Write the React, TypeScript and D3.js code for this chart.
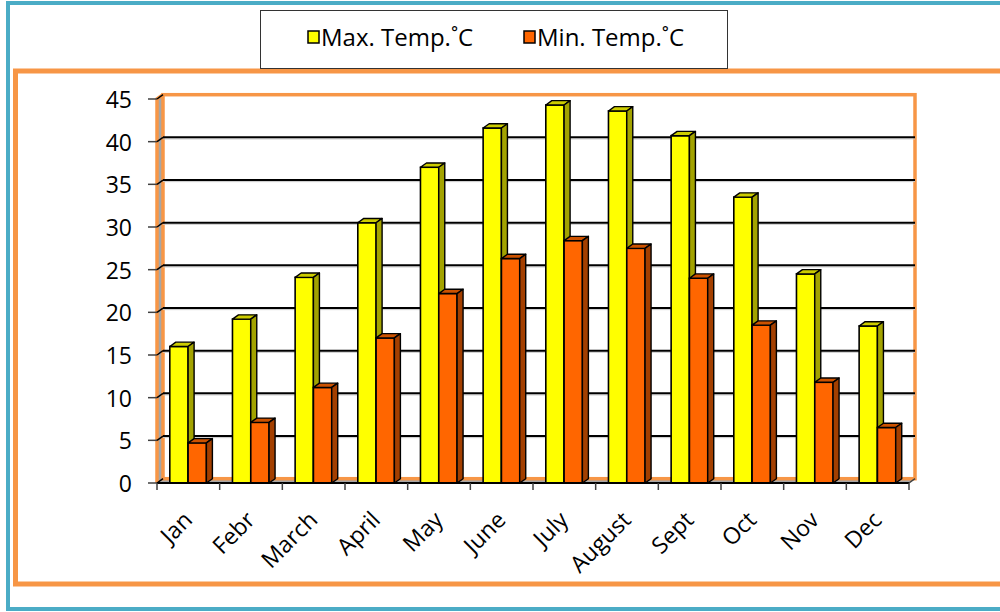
import React from "react";
import * as d3 from "d3";

// Monthly temperature normals (°C)
const months = ["Jan", "Febr", "March", "April", "May", "June", "July", "August", "Sept", "Oct", "Nov", "Dec"];
const maxTemp = [16, 19.2, 24.1, 30.5, 37, 41.6, 44.3, 43.6, 40.7, 33.5, 24.5, 18.4];
const minTemp = [4.7, 7.1, 11.2, 17, 22.2, 26.3, 28.4, 27.5, 24, 18.5, 11.8, 6.5];
const yTicks = [0, 5, 10, 15, 20, 25, 30, 35, 40, 45];
const seriesNames = ["Max. Temp.˚C", "Min. Temp.˚C"];

const W = 1000;
const H = 612;
const FONT = "'Open Sans', 'Noto Sans', sans-serif";

// front plane of the pseudo-3D plot
const X0 = 157;
const X1 = 909;
const Y0 = 483;
const Y1 = 99;
// depth offset of the back wall
const DX = 6;
const DY = -4.3;

const ORANGE_FRAME = "#F79646";
const BLUE_FRAME = "#4BACC6";

const palette = [
  { front: "#FFFF00", top: "#CCCC00", side: "#A3A300" },
  { front: "#FF6600", top: "#CC5200", side: "#A33F00" },
];

export default function App() {
  const x = d3.scaleBand<string>().domain(months).range([X0, X1]).padding(0);
  const y = d3.scaleLinear().domain([0, 45]).range([Y0, Y1]);
  const inner = d3.scaleBand<string>().domain(["max", "min"]).range([12.8, 12.8 + 36.6]).padding(0);
  const bw = inner.bandwidth();
  const series = [maxTemp, minTemp];
  const keys = ["max", "min"];

  const bar = (bx: number, v: number, c: typeof palette[0], key: string) => {
    const top = y(v);
    const pts = (arr: number[][]) => arr.map((p) => p.join(",")).join(" ");
    return (
      <g key={key}>
        <rect x={bx} y={top} width={bw} height={Y0 - top} fill={c.front} stroke="#000" strokeWidth={1.6} />
        <polygon
          points={pts([[bx, top], [bx + DX, top + DY], [bx + bw + DX, top + DY], [bx + bw, top]])}
          fill={c.top}
          stroke="#000"
          strokeWidth={1.4}
          strokeLinejoin="round"
        />
        <polygon
          points={pts([[bx + bw, top], [bx + bw + DX, top + DY], [bx + bw + DX, Y0 + DY], [bx + bw, Y0]])}
          fill={c.side}
          stroke="#000"
          strokeWidth={1.4}
          strokeLinejoin="round"
        />
      </g>
    );
  };

  return (
    <svg
      width={W}
      height={H}
      viewBox={`0 0 ${W} ${H}`}
      style={{ position: "absolute", left: 0, top: 0, background: "#fff" }}
    >
      {/* outer frames */}
      <rect x={8} y={3} width={1100} height={606} fill="none" stroke={BLUE_FRAME} strokeWidth={4} />
      <rect x={15.5} y={71} width={1100} height={513} fill="none" stroke={ORANGE_FRAME} strokeWidth={5} />

      {/* side wall and floor */}
      <polygon
        points={`${X0},${Y0} ${X0},${Y1} ${X0 + DX},${Y1 + DY} ${X0 + DX},${Y0 + DY}`}
        fill="#A6A6A6"
      />
      <polygon
        points={`${X0},${Y0} ${X0 + DX},${Y0 + DY} ${X1 + DX},${Y0 + DY} ${X1},${Y0}`}
        fill="#A6A6A6"
      />
      {/* back wall */}
      <rect
        x={X0 + DX}
        y={Y1 + DY}
        width={X1 - X0}
        height={Y0 - Y1}
        fill="#fff"
        stroke={ORANGE_FRAME}
        strokeWidth={3.5}
      />
      <polyline
        points={`${X0},${Y0} ${X0},${Y1} ${X0 + DX},${Y1 + DY}`}
        fill="none"
        stroke={ORANGE_FRAME}
        strokeWidth={3.5}
      />

      {/* gridlines on the back wall */}
      {yTicks
        .filter((t) => t > 0 && t < 45)
        .map((t) => (
          <g key={`g${t}`}>
            <line x1={X0 + DX} x2={X1 + DX} y1={y(t) + DY + 1.6} y2={y(t) + DY + 1.6} stroke="#C8C8C8" strokeWidth={1} />
            <line x1={X0 + DX} x2={X1 + DX} y1={y(t) + DY} y2={y(t) + DY} stroke="#000" strokeWidth={2} />
          </g>
        ))}

      {/* y axis ticks and labels */}
      {yTicks.map((t) => (
        <g key={`y${t}`}>
          <line x1={X0 - 9} x2={X0} y1={y(t)} y2={y(t)} stroke="#404040" strokeWidth={1.5} />
          <line x1={X0} x2={X0 + DX} y1={y(t)} y2={y(t) + DY} stroke="#000" strokeWidth={1.5} />
          <text
            x={132}
            y={y(t)}
            textAnchor="end"
            dominantBaseline="central"
            fontFamily={FONT}
            fontSize={23}
            fill="#000"
          >
            {t}
          </text>
        </g>
      ))}

      {/* bars */}
      {months.map((m, i) => (
        <g key={m}>
          {series.map((s, k) => bar((x(m) as number) + (inner(keys[k]) as number), s[i], palette[k], `${m}-${k}`))}
        </g>
      ))}

      {/* x axis */}
      <line x1={X0} x2={X1} y1={Y0} y2={Y0} stroke="#000" strokeWidth={2} />
      <line x1={X1} x2={X1 + DX} y1={Y0} y2={Y0 + DY} stroke="#404040" strokeWidth={1.5} />
      {[...months.map((m) => x(m) as number), X1].map((tx, i) => (
        <line key={`t${i}`} x1={tx} x2={tx} y1={Y0} y2={Y0 + 7} stroke="#404040" strokeWidth={1.5} />
      ))}
      {months.map((m) => {
        const cx = (x(m) as number) + x.bandwidth() / 2;
        return (
          <text
            key={`l${m}`}
            transform={`translate(${cx - 1},${515}) rotate(-45)`}
            textAnchor="end"
            dominantBaseline="central"
            fontFamily={FONT}
            fontSize={23}
            fill="#000"
          >
            {m}
          </text>
        );
      })}

      {/* legend */}
      <rect x={260.5} y={10.5} width={467} height={58} fill="#fff" stroke="#333" strokeWidth={1} />
      {seriesNames.map((name, k) => {
        const lx = k === 0 ? 308 : 524;
        return (
          <g key={name}>
            <rect x={lx} y={31} width={11} height={12} fill={palette[k].front} stroke="#000" strokeWidth={1.5} />
            <text x={lx + 13} y={46} fontFamily={FONT} fontSize={24} fill="#000">
              {name}
            </text>
          </g>
        );
      })}
    </svg>
  );
}
